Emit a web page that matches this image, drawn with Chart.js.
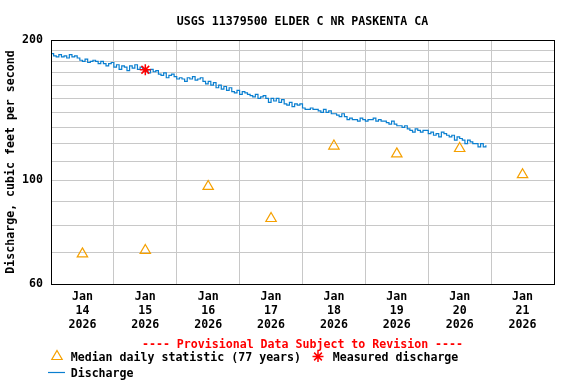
<!DOCTYPE html>
<html>
<head>
<meta charset="utf-8">
<script src="https://cdn.jsdelivr.net/npm/chart.js@4/dist/chart.umd.min.js"></script>
<style>
  html, body { margin: 0; padding: 0; background: #fff; }
  #wrap { position: relative; width: 576px; height: 384px; }
  .txt { position: absolute; font-family: "DejaVu Sans Mono", monospace; font-weight: bold; font-size: 11.6px; line-height: 14px; white-space: pre; color: #000; }
</style>
</head>
<body>
<div id="wrap">
  <canvas id="c" width="576" height="384"></canvas>
  <div class="txt" style="left:51px;width:503px;text-align:center;top:14px;">USGS 11379500 ELDER C NR PASKENTA CA</div>
  <div class="txt" style="left:51px;width:503px;text-align:center;top:336.5px;color:#ff0000;">---- Provisional Data Subject to Revision ----</div>
  <div class="txt" style="left:70.7px;top:350px;">Median daily statistic (77 years)</div>
  <div class="txt" style="left:332.7px;top:350px;">Measured discharge</div>
  <div class="txt" style="left:70.7px;top:366px;">Discharge</div>
</div>
<script>
// Hourly discharge (cfs) starting Jan 14 2026 00:00
const discharge = [
  187,185,
  184,186,184,185,183,186,184,185,183,
  181,180,182,179,180,181,180,
  178,180,178,176,178,179,
  175,177,173,176,175,172,176,174,177,173,175,
  173,172,170,173,171,172,
  169,168,170,166,168,169,167,
  165,166,165,163,166,165,167,164,165,166,
  163,161,163,160,162,
  158,160,157,159,156,158,
  155,154,156,153,155,154,153,
  152,151,153,150,151,152,
  150,147,150,148,150,147,149,
  146,145,147,144,146,145,146,
  143,142,142,143,142,142,
  141,140,142,140,141,139,
  139,138,137,139,
  137,135,136,
  135,135,134,136,135,134,135,135,136,134,135,134,134,
  133,132,134,132,131,
  131,130,131,
  129,128,127,129,128,127,128,128,
  126,127,125,126,124,127,126,125,
  124,125,122,124,123,
  122,120,122,121,120,
  120,118,120,118,119
];
const medianHours = [12, 36, 60, 84, 108, 132, 156, 180];
const medianValues = [69.6, 70.8, 97.1, 82.9, 118.5, 114.0, 117.1, 102.9];
const measuredHours = [36];
const measuredValues = [172.7];
const dayLabels = ['14', '15', '16', '17', '18', '19', '20', '21'];
const monthLabel = 'Jan';
const yearLabel = '2026';
const yGridValues = [60,70,80,90,100,110,120,130,140,150,160,170,180,190,200];
const yLabelValues = [60, 100, 200];

const FONT = { family: '"DejaVu Sans Mono", monospace', size: 11.6, weight: 'bold' };
const BLUE = '#0a7fd0';
const ORANGE = '#f5a000';
const RED = '#ff0000';

const framePlugin = {
  id: 'frame',
  afterDraw(chart) {
    const { ctx, chartArea: a } = chart;
    ctx.save();
    ctx.strokeStyle = '#000';
    ctx.lineWidth = 1;
    ctx.strokeRect(Math.round(a.left) + 0.5, Math.round(a.top) + 0.5, Math.round(a.right - a.left), Math.round(a.bottom - a.top));
    ctx.restore();
    // legend symbols
    ctx.save();
    ctx.strokeStyle = ORANGE; ctx.lineWidth = 1.2; ctx.fillStyle = 'rgba(0,0,0,0)';
    Chart.helpers.drawPoint(ctx, { pointStyle: 'triangle', radius: 6, borderWidth: 1.2, rotation: 0 }, 57, 356.5);
    ctx.restore();
    ctx.save();
    ctx.strokeStyle = RED; ctx.fillStyle = RED; ctx.lineWidth = 1.5;
    Chart.helpers.drawPoint(ctx, { pointStyle: 'star', radius: 5.5, borderWidth: 1.5, rotation: 0 }, 318, 356.5);
    ctx.restore();
    ctx.save();
    ctx.strokeStyle = BLUE; ctx.lineWidth = 1.2;
    ctx.beginPath(); ctx.moveTo(48, 372.5); ctx.lineTo(65, 372.5); ctx.stroke();
    ctx.restore();
  }
};

new Chart(document.getElementById('c'), {
  type: 'scatter',
  data: {
    datasets: [
      {
        label: 'Discharge',
        type: 'line',
        data: discharge.map((v, i) => ({ x: i, y: v })),
        borderColor: BLUE,
        borderWidth: 1.2,
        pointRadius: 0,
        stepped: true,
        fill: false,
        order: 3
      },
      {
        label: 'Median daily statistic (77 years)',
        data: medianHours.map((h, i) => ({ x: h, y: medianValues[i] })),
        pointStyle: 'triangle',
        pointRadius: 6,
        pointBorderWidth: 1.2,
        borderColor: ORANGE,
        backgroundColor: 'rgba(0,0,0,0)',
        order: 2
      },
      {
        label: 'Measured discharge',
        data: measuredHours.map((h, i) => ({ x: h, y: measuredValues[i] })),
        pointStyle: 'star',
        pointRadius: 5.5,
        pointBorderWidth: 1.5,
        borderColor: RED,
        backgroundColor: RED,
        order: 1
      }
    ]
  },
  options: {
    responsive: false,
    animation: false,
    layout: { padding: { top: 40, right: 22, left: 0, bottom: 0 } },
    plugins: { legend: { display: false }, tooltip: { enabled: false }, title: { display: false } },
    scales: {
      x: {
        type: 'linear',
        min: 0,
        max: 192,
        afterBuildTicks(scale) {
          const t = [];
          for (let v = 0; v <= 192; v += 12) t.push({ value: v });
          scale.ticks = t;
        },
        afterFit(scale) { scale.height = 100; },
        grid: {
          drawTicks: false,
          color: (c) => (c.tick && c.tick.value % 24 === 0) ? '#c8c8c8' : 'rgba(0,0,0,0)',
          lineWidth: 1
        },
        border: { display: true, color: '#000', width: 1 },
        ticks: {
          autoSkip: false,
          maxRotation: 0,
          minRotation: 0,
          padding: 6,
          color: '#000',
          font: FONT,
          callback: (v) => {
            if (v % 24 === 12) {
              const d = Math.floor(v / 24);
              return [monthLabel, dayLabels[d], yearLabel];
            }
            return '';
          }
        }
      },
      y: {
        type: 'logarithmic',
        min: 60,
        max: 200,
        afterBuildTicks(scale) { scale.ticks = yGridValues.map(v => ({ value: v })); },
        afterFit(scale) { scale.width = 51; },
        grid: { drawTicks: false, color: '#c8c8c8', lineWidth: 1 },
        border: { display: true, color: '#000', width: 1 },
        title: { display: true, text: 'Discharge, cubic feet per second', color: '#000', font: FONT, padding: { top: 4, bottom: 0 } },
        ticks: {
          autoSkip: false,
          padding: 8,
          color: '#000',
          font: FONT,
          callback: (v) => yLabelValues.includes(v) ? String(v) : ''
        }
      }
    }
  },
  plugins: [framePlugin]
});
</script>
</body>
</html>
